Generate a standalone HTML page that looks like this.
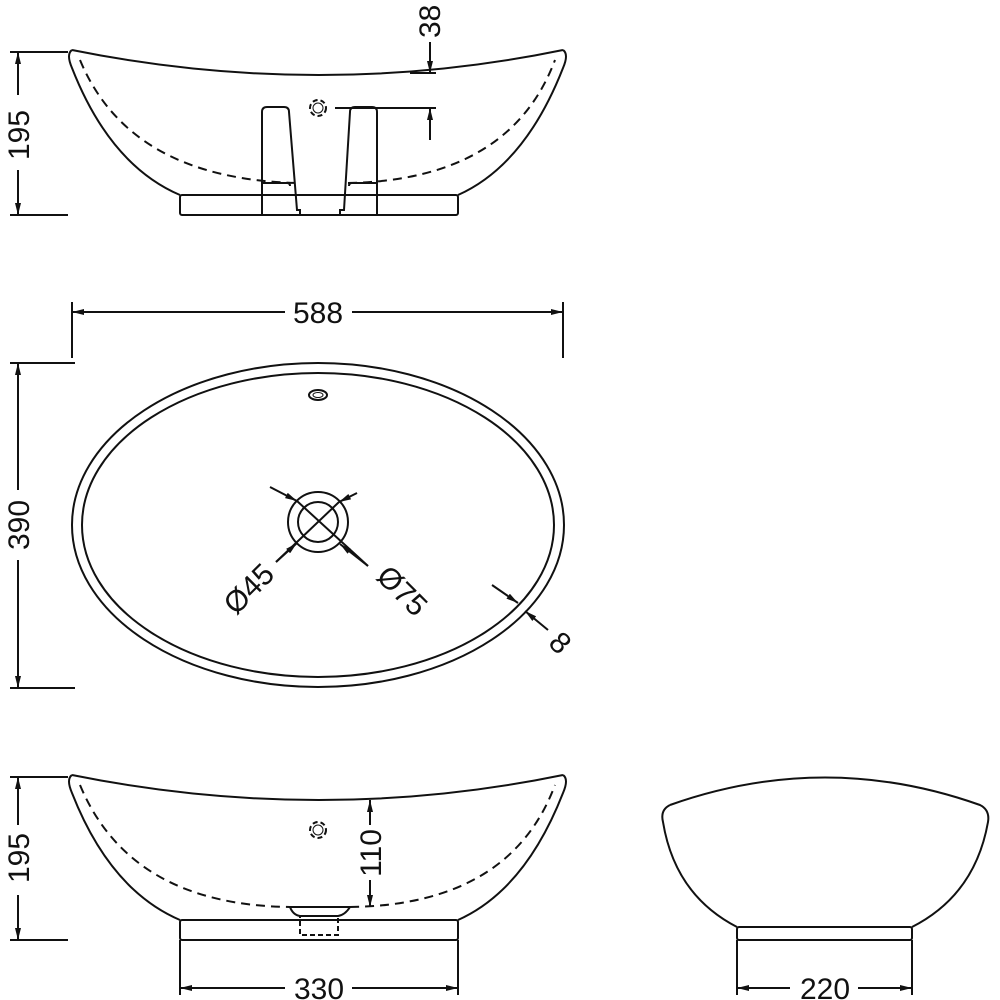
<!DOCTYPE html>
<html><head><meta charset="utf-8"><style>html,body{margin:0;padding:0;background:#fff}svg{display:block}</style></head>
<body>
<svg width="1000" height="1000" viewBox="0 0 1000 1000" xmlns="http://www.w3.org/2000/svg" font-family="Liberation Sans, sans-serif" font-size="30" fill="none" stroke="#111" stroke-width="2">
<defs>
<marker id="a" viewBox="0 0 12 6" refX="12" refY="3" markerWidth="12" markerHeight="6" orient="auto" markerUnits="userSpaceOnUse"><path d="M0,0 L12,3 L0,6 z" fill="#111" stroke="none"/></marker>
</defs>

<!-- ===== Top elevation ===== -->
<path d="M72,50 Q320,100 563,50"/>
<path d="M72,50 Q66,54 72,68 Q110,165 180,195"/>
<path d="M563,50 Q569,54 563,68 Q525,165 458,195"/>
<path d="M80,60 Q130,180 300,183 M348,183 Q510,180 555,60" stroke-dasharray="9,6"/>
<rect x="180" y="195" width="278" height="20" rx="2"/>
<path d="M262,215 V112 Q262,107 267,107 H284 Q289,107 289,112 L297,210 H300 V215"/>
<path d="M377,215 V112 Q377,107 372,107 H355 Q350,107 350,112 L344,210 H340 V215"/>
<path d="M262,183 H287 Q290,183 290,186 M377,183 H352 Q349,183 349,186"/>
<circle cx="318" cy="108" r="8" stroke-dasharray="5,3"/>
<circle cx="318" cy="108" r="5" stroke-width="1"/>
<path d="M335,108 H436 M410,73 H436"/>
<path d="M430,42 V73" marker-end="url(#a)"/>
<path d="M430,140 V108" marker-end="url(#a)"/>
<text transform="translate(440,38) rotate(-90)" fill="#111" stroke="none">38</text>
<path d="M10,52 H68 M10,215 H68"/>
<path d="M18,95 V52" marker-end="url(#a)"/>
<path d="M18,170 V215" marker-end="url(#a)"/>
<text transform="translate(29,160) rotate(-90)" fill="#111" stroke="none">195</text>

<!-- ===== Plan ===== -->
<path d="M72,302 V358 M563,302 V358"/>
<path d="M285,312 H72" marker-end="url(#a)"/>
<path d="M352,312 H563" marker-end="url(#a)"/>
<text x="318" y="323" text-anchor="middle" fill="#111" stroke="none">588</text>
<ellipse cx="318" cy="525" rx="246" ry="162"/>
<ellipse cx="318" cy="525" rx="236" ry="152"/>
<ellipse cx="318" cy="395" rx="9" ry="5"/>
<ellipse cx="318" cy="395" rx="5" ry="2.5" stroke-width="1"/>
<circle cx="318" cy="522" r="30"/>
<circle cx="318" cy="522" r="20"/>
<path d="M270,487 L297,501" marker-end="url(#a)"/>
<path d="M297,501 L368,566"/>
<path d="M357,493 L339,502" marker-end="url(#a)"/>
<path d="M339,502 L276,562"/>
<path d="M276,562 L297,543" marker-end="url(#a)"/>
<path d="M368,566 L340,544" marker-end="url(#a)"/>
<text transform="translate(256,596) rotate(-45)" text-anchor="middle" fill="#111" stroke="none">Ø45</text>
<text transform="translate(395,598) rotate(45)" text-anchor="middle" fill="#111" stroke="none">Ø75</text>
<path d="M492,585 L518,603" marker-end="url(#a)"/>
<path d="M548,630 L525,611" marker-end="url(#a)"/>
<text transform="translate(553,650) rotate(45)" text-anchor="middle" fill="#111" stroke="none">8</text>
<path d="M10,363 H75 M10,688 H75"/>
<path d="M18,490 V363" marker-end="url(#a)"/>
<path d="M18,560 V688" marker-end="url(#a)"/>
<text transform="translate(29,525) rotate(-90)" text-anchor="middle" fill="#111" stroke="none">390</text>

<!-- ===== Front elevation ===== -->
<path d="M72,775 Q320,825 563,775"/>
<path d="M72,775 Q66,779 72,793 Q110,890 180,920"/>
<path d="M563,775 Q569,779 563,793 Q525,890 458,920"/>
<path d="M80,785 Q130,905 290,907 M350,907 Q510,905 555,785" stroke-dasharray="9,6"/>
<path d="M290,907 H350 Q345,915 338,916 H300 Q293,915 290,907"/>
<rect x="180" y="920" width="278" height="20" rx="2"/>
<rect x="300" y="916" width="38" height="19" stroke-dasharray="5,3"/>
<circle cx="318" cy="830" r="8" stroke-dasharray="5,3"/>
<circle cx="318" cy="830" r="5" stroke-width="1"/>
<path d="M370,825 V800" marker-end="url(#a)"/>
<path d="M370,880 V907" marker-end="url(#a)"/>
<text transform="translate(381,853) rotate(-90)" text-anchor="middle" fill="#111" stroke="none">110</text>
<path d="M10,777 H68 M10,940 H68"/>
<path d="M18,825 V777" marker-end="url(#a)"/>
<path d="M18,895 V940" marker-end="url(#a)"/>
<text transform="translate(29,858) rotate(-90)" text-anchor="middle" fill="#111" stroke="none">195</text>
<path d="M180,940 V995 M458,940 V995"/>
<path d="M285,988 H180" marker-end="url(#a)"/>
<path d="M352,988 H458" marker-end="url(#a)"/>
<text x="319" y="999" text-anchor="middle" fill="#111" stroke="none">330</text>

<!-- ===== Side elevation ===== -->
<path d="M670,805 Q825,750 980,805 Q990,810 988,822 Q975,895 912,927"/>
<path d="M670,805 Q660,810 663,822 Q675,895 737,927"/>
<rect x="737" y="927" width="175" height="13" rx="2"/>
<path d="M737,940 V995 M912,940 V995"/>
<path d="M790,988 H737" marker-end="url(#a)"/>
<path d="M858,988 H912" marker-end="url(#a)"/>
<text x="825" y="999" text-anchor="middle" fill="#111" stroke="none">220</text>
</svg>
</body></html>
